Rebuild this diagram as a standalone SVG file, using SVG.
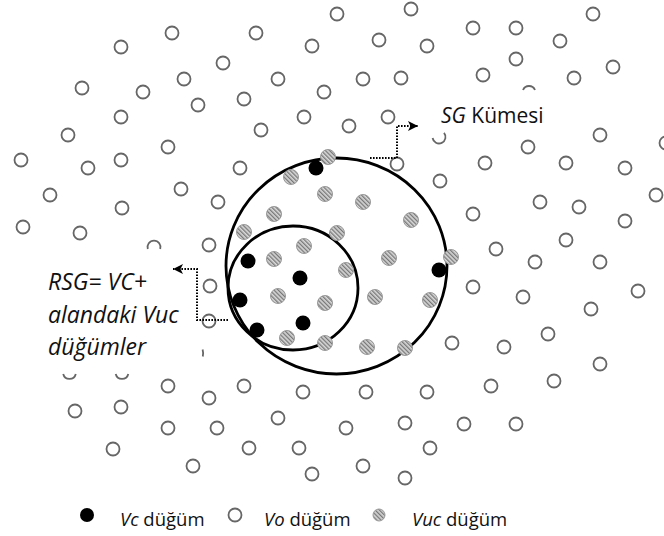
<svg xmlns="http://www.w3.org/2000/svg" width="664" height="536" viewBox="0 0 664 536">
<defs>
<pattern id="hatch" patternUnits="userSpaceOnUse" width="3" height="3" patternTransform="rotate(-45)">
<rect width="3" height="3" fill="#d8d8d8"/>
<rect width="1.3" height="3" fill="#777"/>
</pattern>
<marker id="arr" viewBox="0 0 10 10" refX="10" refY="5" markerWidth="11" markerHeight="10" markerUnits="userSpaceOnUse" orient="auto">
<path d="M0,0 L10,5 L0,10 L2.5,5 z" fill="#000"/>
</marker>
<style>
.vo{fill:#fff;stroke:#666;stroke-width:1.8}
.vuc{fill:url(#hatch);stroke:#999;stroke-width:1}
.vc{fill:#000}
.arc{fill:none;stroke:#666;stroke-width:1.8}
.ring{fill:none;stroke:#000;stroke-width:2.8}
.dot{fill:none;stroke:#000;stroke-width:2;stroke-dasharray:1.6 1.4}
.t{font-family:"Open Sans","Liberation Sans",sans-serif;fill:#111}
.i{font-style:italic}
</style>
</defs>
<rect width="664" height="536" fill="#fff"/>

<g id="rings">
<ellipse id="sg-ring" class="ring" cx="336.5" cy="266" rx="110.5" ry="108"/>
<ellipse id="rsg-ring" class="ring" cx="293" cy="288" rx="65" ry="62"/>
</g>

<g id="vo-nodes">
<g id="o1"><circle class="vo" cx="172" cy="33" r="6.5"/></g>
<g id="o2"><circle class="vo" cx="121" cy="47" r="6.5"/></g>
<g id="o3"><circle class="vo" cx="223" cy="63" r="6.5"/></g>
<g id="o4"><circle class="vo" cx="82" cy="88" r="6.5"/></g>
<g id="o5"><circle class="vo" cx="143" cy="92" r="6.5"/></g>
<g id="o6"><circle class="vo" cx="184" cy="79" r="6.5"/></g>
<g id="o7"><circle class="vo" cx="198" cy="105" r="6.5"/></g>
<g id="o8"><circle class="vo" cx="121" cy="117" r="6.5"/></g>
<g id="o9"><circle class="vo" cx="68" cy="135" r="6.5"/></g>
<g id="o10"><circle class="vo" cx="168" cy="147" r="6.5"/></g>
<g id="o11"><circle class="vo" cx="21" cy="160" r="6.5"/></g>
<g id="o12"><circle class="vo" cx="121" cy="160" r="6.5"/></g>
<g id="o13"><circle class="vo" cx="88" cy="168" r="6.5"/></g>
<g id="o14"><circle class="vo" cx="337" cy="14" r="6.5"/></g>
<g id="o15"><circle class="vo" cx="411" cy="9" r="6.5"/></g>
<g id="o16"><circle class="vo" cx="256" cy="33" r="6.5"/></g>
<g id="o17"><circle class="vo" cx="312" cy="46" r="6.5"/></g>
<g id="o18"><circle class="vo" cx="379" cy="40" r="6.5"/></g>
<g id="o19"><circle class="vo" cx="427" cy="46" r="6.5"/></g>
<g id="o20"><circle class="vo" cx="278" cy="79" r="6.5"/></g>
<g id="o21"><circle class="vo" cx="363" cy="79" r="6.5"/></g>
<g id="o22"><circle class="vo" cx="401" cy="78" r="6.5"/></g>
<g id="o23"><circle class="vo" cx="244" cy="99" r="6.5"/></g>
<g id="o24"><circle class="vo" cx="324" cy="92" r="6.5"/></g>
<g id="o25"><circle class="vo" cx="304" cy="117" r="6.5"/></g>
<g id="o26"><circle class="vo" cx="349" cy="126" r="6.5"/></g>
<g id="o27"><circle class="vo" cx="261" cy="130" r="6.5"/></g>
<g id="o28"><circle class="vo" cx="388" cy="117" r="6.5"/></g>
<g id="o29"><circle class="vo" cx="240" cy="168" r="6.5"/></g>
<g id="o30"><circle class="vo" cx="397" cy="164" r="6.5"/></g>
<g id="o31"><circle class="vo" cx="473" cy="28" r="6.5"/></g>
<g id="o32"><circle class="vo" cx="516" cy="28" r="6.5"/></g>
<g id="o33"><circle class="vo" cx="593" cy="14" r="6.5"/></g>
<g id="o34"><circle class="vo" cx="560" cy="41" r="6.5"/></g>
<g id="o35"><circle class="vo" cx="516" cy="59" r="6.5"/></g>
<g id="o36"><circle class="vo" cx="483" cy="75" r="6.5"/></g>
<g id="o37"><circle class="vo" cx="574" cy="78" r="6.5"/></g>
<g id="o38"><circle class="vo" cx="613" cy="67" r="6.5"/></g>
<g id="o39"><circle class="vo" cx="600" cy="135" r="6.5"/></g>
<g id="o40"><circle class="vo" cx="528" cy="147" r="6.5"/></g>
<g id="o41"><circle class="vo" cx="485" cy="163" r="6.5"/></g>
<g id="o42"><circle class="vo" cx="566" cy="163" r="6.5"/></g>
<g id="o43"><circle class="vo" cx="625" cy="168" r="6.5"/></g>
<g id="o44"><circle class="vo" cx="666" cy="143" r="6.5"/></g>
<g id="o45"><circle class="vo" cx="50" cy="195" r="6.5"/></g>
<g id="o46"><circle class="vo" cx="181" cy="189" r="6.5"/></g>
<g id="o47"><circle class="vo" cx="218" cy="202" r="6.5"/></g>
<g id="o48"><circle class="vo" cx="122" cy="208" r="6.5"/></g>
<g id="o49"><circle class="vo" cx="23" cy="227" r="6.5"/></g>
<g id="o50"><circle class="vo" cx="80" cy="233" r="6.5"/></g>
<g id="o51"><circle class="vo" cx="209" cy="245" r="6.5"/></g>
<g id="o52"><circle class="vo" cx="210" cy="286" r="6.5"/></g>
<g id="o53"><circle class="vo" cx="209" cy="321" r="6.5"/></g>
<g id="o54"><circle class="vo" cx="440" cy="181" r="6.5"/></g>
<g id="o55"><circle class="vo" cx="473" cy="214" r="6.5"/></g>
<g id="o56"><circle class="vo" cx="540" cy="202" r="6.5"/></g>
<g id="o57"><circle class="vo" cx="579" cy="207" r="6.5"/></g>
<g id="o58"><circle class="vo" cx="656" cy="195" r="6.5"/></g>
<g id="o59"><circle class="vo" cx="625" cy="221" r="6.5"/></g>
<g id="o60"><circle class="vo" cx="566" cy="240" r="6.5"/></g>
<g id="o61"><circle class="vo" cx="496" cy="249" r="6.5"/></g>
<g id="o62"><circle class="vo" cx="535" cy="262" r="6.5"/></g>
<g id="o63"><circle class="vo" cx="600" cy="262" r="6.5"/></g>
<g id="o64"><circle class="vo" cx="473" cy="287" r="6.5"/></g>
<g id="o65"><circle class="vo" cx="523" cy="297" r="6.5"/></g>
<g id="o66"><circle class="vo" cx="638" cy="291" r="6.5"/></g>
<g id="o67"><circle class="vo" cx="591" cy="309" r="6.5"/></g>
<g id="o68"><circle class="vo" cx="452" cy="343" r="6.5"/></g>
<g id="o69"><circle class="vo" cx="504" cy="347" r="6.5"/></g>
<g id="o70"><circle class="vo" cx="548" cy="334" r="6.5"/></g>
<g id="o71"><circle class="vo" cx="600" cy="364" r="6.5"/></g>
<g id="o72"><circle class="vo" cx="491" cy="386" r="6.5"/></g>
<g id="o73"><circle class="vo" cx="554" cy="381" r="6.5"/></g>
<g id="o74"><circle class="vo" cx="464" cy="424" r="6.5"/></g>
<g id="o75"><circle class="vo" cx="516" cy="424" r="6.5"/></g>
<g id="o76"><circle class="vo" cx="244" cy="386" r="6.5"/></g>
<g id="o77"><circle class="vo" cx="303" cy="392" r="6.5"/></g>
<g id="o78"><circle class="vo" cx="366" cy="392" r="6.5"/></g>
<g id="o79"><circle class="vo" cx="427" cy="392" r="6.5"/></g>
<g id="o80"><circle class="vo" cx="278" cy="418" r="6.5"/></g>
<g id="o81"><circle class="vo" cx="346" cy="428" r="6.5"/></g>
<g id="o82"><circle class="vo" cx="405" cy="423" r="6.5"/></g>
<g id="o83"><circle class="vo" cx="249" cy="448" r="6.5"/></g>
<g id="o84"><circle class="vo" cx="299" cy="448" r="6.5"/></g>
<g id="o85"><circle class="vo" cx="430" cy="448" r="6.5"/></g>
<g id="o86"><circle class="vo" cx="312" cy="474" r="6.5"/></g>
<g id="o87"><circle class="vo" cx="363" cy="466" r="6.5"/></g>
<g id="o88"><circle class="vo" cx="405" cy="478" r="6.5"/></g>
<g id="o89"><circle class="vo" cx="168" cy="386" r="6.5"/></g>
<g id="o90"><circle class="vo" cx="209" cy="398" r="6.5"/></g>
<g id="o91"><circle class="vo" cx="75" cy="411" r="6.5"/></g>
<g id="o92"><circle class="vo" cx="121" cy="407" r="6.5"/></g>
<g id="o93"><circle class="vo" cx="168" cy="428" r="6.5"/></g>
<g id="o94"><circle class="vo" cx="217" cy="428" r="6.5"/></g>
<g id="o95"><circle class="vo" cx="113" cy="449" r="6.5"/></g>
<g id="o96"><circle class="vo" cx="193" cy="466" r="6.5"/></g>
<g id="p1"><path class="arc" d="M147.8,249 A6.5,6.5 0 1 1 160.2,249"/></g>
<g id="p2"><path class="arc" d="M523,90 A6.5,6.5 0 0 1 535,90"/></g>
<g id="p3"><path class="arc" d="M432.6,138 A6.5,6.5 0 1 0 444,132.8"/></g>
<g id="p4"><path class="arc" d="M63.2,374 A6.5,6.5 0 0 0 75.8,374"/></g>
<g id="p5"><path class="arc" d="M115.7,374 A6.5,6.5 0 0 0 128.3,374"/></g>
<g id="p6"><path class="arc" d="M202.6,349.5 Q203.6,353 202.8,356.5"/></g>
</g>

<g id="vuc-nodes">
<g id="u1"><circle class="vuc" cx="328" cy="157" r="7.5"/></g>
<g id="u2"><circle class="vuc" cx="291" cy="177" r="7.5"/></g>
<g id="u3"><circle class="vuc" cx="325" cy="194" r="7.5"/></g>
<g id="u4"><circle class="vuc" cx="363" cy="202" r="7.5"/></g>
<g id="u5"><circle class="vuc" cx="274" cy="214" r="7.5"/></g>
<g id="u6"><circle class="vuc" cx="411" cy="220" r="7.5"/></g>
<g id="u7"><circle class="vuc" cx="244" cy="232" r="7.5"/></g>
<g id="u8"><circle class="vuc" cx="337" cy="233" r="7.5"/></g>
<g id="u9"><circle class="vuc" cx="304" cy="246" r="7.5"/></g>
<g id="u10"><circle class="vuc" cx="274" cy="259" r="7.5"/></g>
<g id="u11"><circle class="vuc" cx="389" cy="258" r="7.5"/></g>
<g id="u12"><circle class="vuc" cx="346" cy="270" r="7.5"/></g>
<g id="u13"><circle class="vuc" cx="451" cy="257" r="7.5"/></g>
<g id="u14"><circle class="vuc" cx="278" cy="296" r="7.5"/></g>
<g id="u15"><circle class="vuc" cx="325" cy="303" r="7.5"/></g>
<g id="u16"><circle class="vuc" cx="375" cy="297" r="7.5"/></g>
<g id="u17"><circle class="vuc" cx="430" cy="300" r="7.5"/></g>
<g id="u18"><circle class="vuc" cx="287" cy="338" r="7.5"/></g>
<g id="u19"><circle class="vuc" cx="325" cy="343" r="7.5"/></g>
<g id="u20"><circle class="vuc" cx="367" cy="347" r="7.5"/></g>
<g id="u21"><circle class="vuc" cx="405" cy="348" r="7.5"/></g>
</g>

<g id="vc-nodes">
<g id="c1"><circle class="vc" cx="316" cy="168" r="7.5"/></g>
<g id="c2"><circle class="vc" cx="248" cy="261" r="7.5"/></g>
<g id="c3"><circle class="vc" cx="300" cy="278" r="7.5"/></g>
<g id="c4"><circle class="vc" cx="240" cy="300" r="7.5"/></g>
<g id="c5"><circle class="vc" cx="303" cy="323" r="7.5"/></g>
<g id="c6"><circle class="vc" cx="257" cy="330" r="7.5"/></g>
<g id="c7"><circle class="vc" cx="439" cy="270" r="7.5"/></g>
</g>

<g id="connectors">
<path class="dot" d="M370,158 H397 V126 H418" marker-end="url(#arr)"/>
<path class="dot" d="M228,320 H197 V269 H173" marker-end="url(#arr)"/>
</g>

<g id="label-sg">
<text class="t" x="441" y="123" font-size="21"><tspan class="i">SG</tspan> Kümesi</text>
</g>
<g id="label-rsg">
<text class="t i" x="48" y="290" font-size="23">RSG= VC+</text>
<text class="t i" x="48" y="323" font-size="23">alandaki Vuc</text>
<text class="t i" x="48" y="355" font-size="23">düğümler</text>
</g>

<g id="legend">
<circle class="vc" cx="87" cy="515" r="7"/>
<text class="t" x="120" y="526" font-size="18.5"><tspan class="i">Vc</tspan> düğüm</text>
<circle class="vo" cx="235" cy="515" r="6.5"/>
<text class="t" x="264" y="526" font-size="18.5"><tspan class="i">Vo</tspan> düğüm</text>
<circle class="vuc" cx="379" cy="515" r="6"/>
<text class="t" x="412" y="526" font-size="18.5"><tspan class="i">Vuc</tspan> düğüm</text>
</g>
</svg>
